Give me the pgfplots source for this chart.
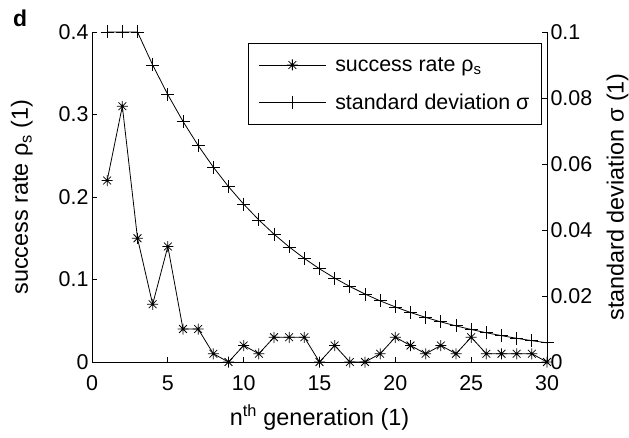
\documentclass[border=0pt]{standalone}
\usepackage{pgfplots}
\pgfplotsset{compat=1.18}
\usepackage{fontspec}
\setmainfont{Liberation Sans}
\pgfdeclareplotmark{mstar}{%
 \pgfpathmoveto{\pgfqpoint{0pt}{\pgfplotmarksize}}\pgfpathlineto{\pgfqpoint{0pt}{-\pgfplotmarksize}}%
 \pgfpathmoveto{\pgfqpoint{\pgfplotmarksize}{0pt}}\pgfpathlineto{\pgfqpoint{-\pgfplotmarksize}{0pt}}%
 \pgfpathmoveto{\pgfqpoint{.707\pgfplotmarksize}{.707\pgfplotmarksize}}\pgfpathlineto{\pgfqpoint{-.707\pgfplotmarksize}{-.707\pgfplotmarksize}}%
 \pgfpathmoveto{\pgfqpoint{.707\pgfplotmarksize}{-.707\pgfplotmarksize}}\pgfpathlineto{\pgfqpoint{-.707\pgfplotmarksize}{.707\pgfplotmarksize}}%
 \pgfusepathqstroke}
\pgfplotsset{
  common/.style={
    width=455bp, height=330bp, scale only axis,
    at={(0,0)}, anchor=south west,
    xmin=0, xmax=30, clip=false,
    tick align=inside, major tick length=5bp,
    tick style={black, line width=0.8bp},
    axis line style={black, line width=0.8bp, -},
    tick label style={font=\fontsize{21.5}{24}\selectfont},
    label style={font=\fontsize{23.5}{27}\selectfont},
    legend image code/.code={\draw[mark repeat=2,mark phase=2,##1] plot coordinates {(0bp,0bp) (33.5bp,0bp) (67bp,0bp)};},
  }
}
\begin{document}
\begin{tikzpicture}
\useasboundingbox (-92bp,-76bp) rectangle (537bp,362bp);
\begin{axis}[common,
  ymin=0, ymax=0.4,
  axis x line*=bottom, axis y line*=left,
  xtick={0,5,10,15,20,25,30}, xticklabels={0,5,10,15,20,25,30},
  xticklabel style={yshift=-10bp},
  ytick={0,0.1,0.2,0.3,0.4}, yticklabels={0,0.1,0.2,0.3,0.4},
  xlabel={n\textsuperscript{th} generation (1)},
  ylabel={success rate ρ\textsubscript{s} (1)},
  xlabel style={at={(axis description cs:0.5,-0.167)}, anchor=center},
  ylabel style={at={(axis description cs:-0.154,0.5)}, anchor=center},
]
\addplot[black, line width=0.8bp, mark=mstar, mark size=5.5bp] coordinates {
(1,0.22) (2,0.31) (3,0.15) (4,0.07) (5,0.14) (6,0.04) (7,0.04) (8,0.01) (9,0) (10,0.02)
(11,0.01) (12,0.03) (13,0.03) (14,0.03) (15,0) (16,0.02) (17,0) (18,0) (19,0.01) (20,0.03)
(21,0.02) (22,0.01) (23,0.02) (24,0.01) (25,0.03) (26,0.01) (27,0.01) (28,0.01) (29,0.01) (30,0)
};
\node[font=\fontsize{23}{27}\selectfont\bfseries] at (axis description cs:-0.158,1.042) {d};
\end{axis}
\begin{axis}[common,
  ymin=0, ymax=0.1,
  axis x line=none, axis y line*=right,
  ytick={0,0.02,0.04,0.06,0.08,0.1}, yticklabels={0,0.02,0.04,0.06,0.08,0.1},
  ylabel={standard deviation σ (1)},
  ylabel style={at={(axis description cs:1.155,0.5)}, anchor=center},
  legend style={at={(0.343,0.967)}, anchor=north west, draw=black, line width=0.8bp,
    font=\fontsize{21.5}{24}\selectfont, inner xsep=10bp, inner ysep=12bp, row sep=17bp, column sep=7bp},
  legend cell align=left,
]
\addlegendimage{black, line width=0.8bp, mark=mstar, mark size=5.5bp}
\addlegendentry{success rate ρ\textsubscript{s}}
\addplot[black, line width=0.8bp, mark=+, mark size=6.5bp] coordinates {
(1,0.1) (2,0.1) (3,0.1) (4,0.09) (5,0.081) (6,0.0729) (7,0.06561) (8,0.05905) (9,0.05314) (10,0.04783)
(11,0.04305) (12,0.03874) (13,0.03487) (14,0.03138) (15,0.02824) (16,0.02542) (17,0.02288) (18,0.02059) (19,0.01853) (20,0.01668)
(21,0.01501) (22,0.01351) (23,0.01216) (24,0.01094) (25,0.00985) (26,0.00886) (27,0.00798) (28,0.00718) (29,0.00646) (30,0.00581)
};
\addlegendentry{standard deviation σ}
\end{axis}
\end{tikzpicture}
\end{document}
